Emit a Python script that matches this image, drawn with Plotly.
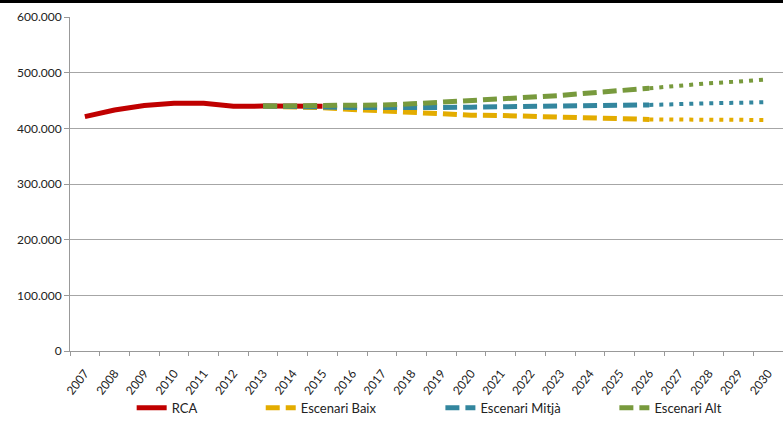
import plotly.graph_objects as go

years = list(range(2007, 2031))

# RCA 2007-2015
rca = [421000, 433000, 441000, 445000, 445000, 439500, 440000, 440000, 439500]

# scenarios 2013-2030
scen_years = years[6:]
baix = [440000, 439000, 437000, 434000, 431000, 429000, 425500, 423500, 423000,
        422000, 420500, 418500, 418000, 416000, 415500, 415000, 415000, 415000]
mitja = [440000, 440000, 438500, 437500, 437000, 437000, 437500, 438000, 438500,
         439000, 439000, 440000, 441000, 442000, 444000, 445000, 446000, 447000]
alt = [440000, 440000, 440000, 441000, 442000, 444000, 447000, 450000, 453000,
       455000, 459000, 463500, 467000, 472000, 477000, 481000, 484000, 488000]

names = ["Escenari Baix", "Escenari Mitjà", "Escenari Alt"]
colors = ["#E3AC00", "#33869E", "#789A3D"]
series = [baix, mitja, alt]
cut = scen_years.index(2026)

fig = go.Figure()
fig.add_trace(go.Scatter(x=years[:len(rca)], y=rca, mode="lines", name="RCA",
                         line=dict(color="#C00000", width=5), legend="legend"))

leg_names = ["legend2", "legend3", "legend4"]
for nm, col, vals, lg in zip(names, colors, series, leg_names):
    # projection until 2026 dashed, then dotted
    fig.add_trace(go.Scatter(x=scen_years[:cut + 1], y=vals[:cut + 1], mode="lines", name=nm,
                             line=dict(color=col, width=5, dash="14px,6px"), legend=lg))
    fig.add_trace(go.Scatter(x=scen_years[cut:], y=vals[cut:], mode="lines", name=nm,
                             line=dict(color=col, width=4, dash="4px,6px"),
                             showlegend=False))

# empty trace so the label axis (x2) gets drawn
fig.add_trace(go.Scatter(x=years, y=[None] * len(years), xaxis="x2", mode="lines",
                         showlegend=False, hoverinfo="skip"))

# plot area 17..351 px, year labels hang from a free axis a bit lower (363 px)
H = 346
font = dict(family="Lato, Carlito, sans-serif", size=12, color="#222")
leg_x = [0.0865, 0.2675, 0.5195, 0.7635]
legs = {}
for key, xx in zip(["legend", "legend2", "legend3", "legend4"], leg_x):
    legs[key] = dict(x=xx, y=-0.086, xanchor="left", yanchor="top",
                     orientation="h", font=dict(family="Lato, sans-serif", size=13, color="#222"),
                     bgcolor="rgba(0,0,0,0)")

xr = [years[0] - 0.5, years[-1] + 0.5]
fig.update_layout(
    width=783, height=444,
    margin=dict(l=70, r=0, t=17, b=444 - 17 - H),
    plot_bgcolor="white", paper_bgcolor="white",
    separators=",.",
    font=font,
    **legs,
    xaxis=dict(range=xr, automargin=False, showticklabels=False,
               showgrid=False, showline=True, linecolor="#999", linewidth=1, ticks="",
               minor=dict(ticks="outside", ticklen=4, tickcolor="#999",
                          tick0=years[0] - 0.5, dtick=1, showgrid=False)),
    xaxis2=dict(range=xr, overlaying="x", anchor="free", position=0, side="bottom",
                tickvals=years, ticktext=[str(y) for y in years], automargin=False,
                showgrid=False, showline=False, zeroline=False, ticks="",
                tickangle=-52, tickfont=dict(size=12)),
    yaxis=dict(range=[0, 600000], dtick=100000, tickformat=",d", automargin=False,
               domain=[12 / H, 1],
               showgrid=True, gridcolor="#a6a6a6", gridwidth=1,
               showline=True, linecolor="#999", linewidth=1, zeroline=False,
               ticks="outside", ticklen=5, tickcolor="#999", tickfont=dict(size=12)),
    shapes=[dict(type="line", xref="paper", yref="paper", x0=-0.1, x1=1.01,
                 y0=1 + 15.5 / H, y1=1 + 15.5 / H, line=dict(color="black", width=3))],
)

fig.write_html("out.html", config={"displayModeBar": False},
               post_script="document.body.style.margin='0';")
